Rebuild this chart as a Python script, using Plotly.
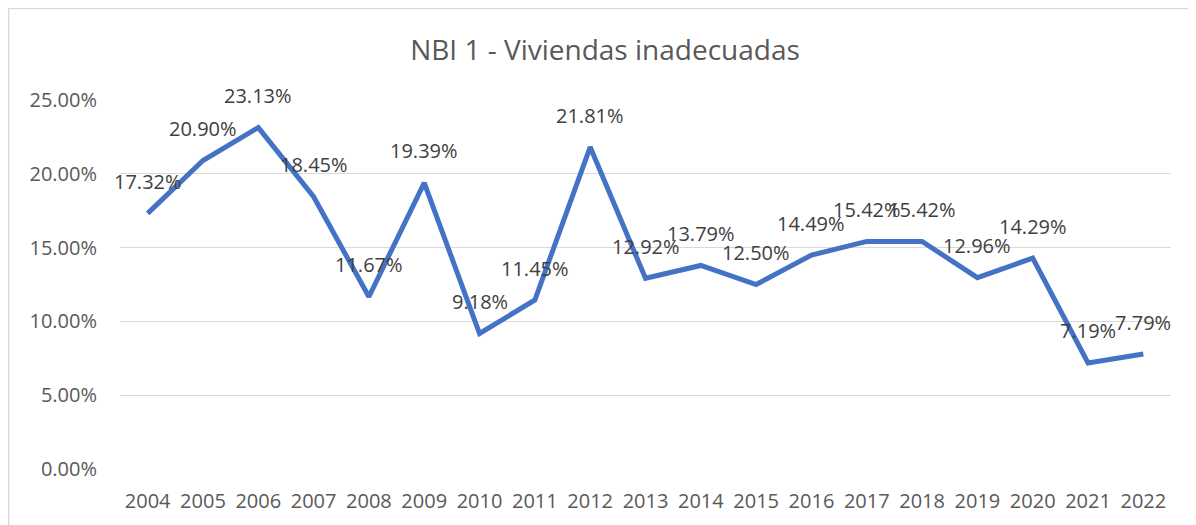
import plotly.graph_objects as go

years = ["2004", "2005", "2006", "2007", "2008", "2009", "2010", "2011", "2012", "2013",
         "2014", "2015", "2016", "2017", "2018", "2019", "2020", "2021", "2022"]
values = [0.1732, 0.2090, 0.2313, 0.1845, 0.1167, 0.1939, 0.0918, 0.1145, 0.2181, 0.1292,
          0.1379, 0.1250, 0.1449, 0.1542, 0.1542, 0.1296, 0.1429, 0.0719, 0.0779]
y_ticks = [0, 0.05, 0.10, 0.15, 0.20, 0.25]
title_text = "NBI 1 - Viviendas inadecuadas"

FONT = "Open Sans"

fig = go.Figure()
fig.add_trace(go.Scatter(
    x=years, y=values, mode="lines",
    line=dict(color="#4472C4", width=5),
    hoverinfo="skip", showlegend=False,
))

for i, v in enumerate(values):
    fig.add_annotation(
        x=i, y=v, text=f"{v*100:.2f}%", showarrow=False,
        yshift=32, font=dict(family=FONT, size=20, color="#404040"),
    )

fig.update_layout(
    width=1188, height=517,
    margin=dict(l=112, r=25, t=92, b=56),
    paper_bgcolor="white", plot_bgcolor="white",
    title=dict(text=title_text, x=0.5025, xanchor="center", y=0.918, yanchor="middle",
               font=dict(family=FONT, size=28, color="#595959")),
    xaxis=dict(type="category", categoryorder="array", categoryarray=years,
               range=[-0.5, len(years) - 0.5],
               showgrid=False, showline=False, zeroline=False,
               ticks="outside", ticklen=14, tickcolor="rgba(0,0,0,0)",
               tickfont=dict(family=FONT, size=20, color="#595959")),
    yaxis=dict(range=[0, 0.25], tickvals=y_ticks, tickformat=".2%",
               showgrid=True, gridcolor="#D9D9D9", gridwidth=1.3,
               zeroline=False, showline=False,
               ticks="outside", ticklen=18, tickcolor="rgba(0,0,0,0)",
               tickfont=dict(family=FONT, size=20, color="#595959")),
    shapes=[dict(type="rect", xref="paper", yref="paper",
                 x0=-0.1059, x1=1.03, y0=-0.17, y1=1.2475,
                 line=dict(color="#D9D9D9", width=1.3), layer="below")],
)

fig.write_html("out.html")
